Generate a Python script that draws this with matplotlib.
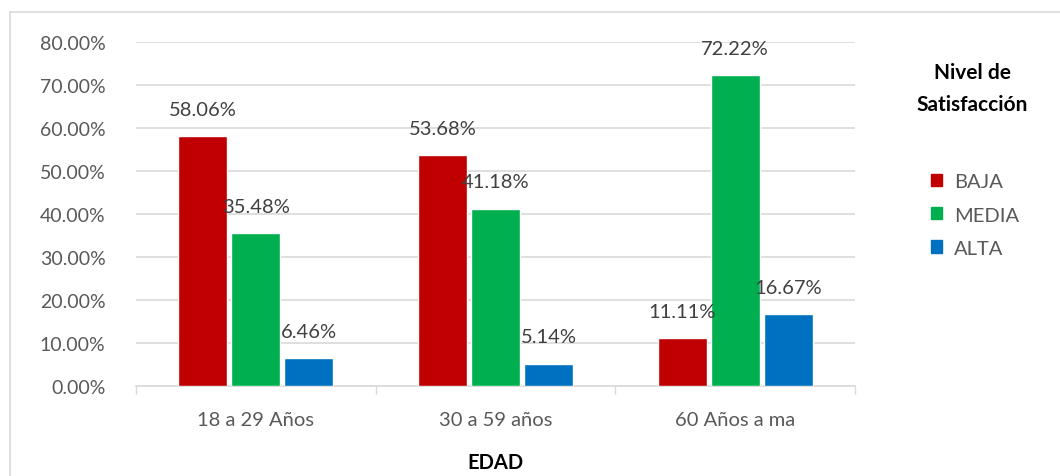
import matplotlib
matplotlib.use('Agg')
import matplotlib.pyplot as plt
import numpy as np
from matplotlib.lines import Line2D
from matplotlib.patches import Patch

# data
categories = ['18 a 29 Años', '30 a 59 años', '60 Años a ma']
series_names = ['BAJA', 'MEDIA', 'ALTA']
baja = [58.06, 53.68, 11.11]
media = [35.48, 41.18, 72.22]
alta = [6.46, 5.14, 16.67]
colors = ['#C00000', '#00B050', '#0070C0']

plt.rcParams['font.family'] = ['Lato', 'DejaVu Sans']

fig = plt.figure(figsize=(10.6, 4.77), dpi=100)
ax = fig.add_axes([136 / 1060, 90 / 477, 719 / 1060, 344 / 477])

x = np.arange(len(categories))
width = 0.205
step = 0.221
for i, (vals, name) in enumerate(zip([baja, media, alta], series_names)):
    pos = x + (i - 1) * step
    bars = ax.bar(pos, vals, width, color=colors[i], edgecolor='white', linewidth=1, zorder=3, label=name)
    for b, v in zip(bars, vals):
        ax.annotate(f'{v:.2f}%', (b.get_x() + b.get_width() / 2, v), xytext=(0, 19.5),
                    textcoords='offset points', ha='center', va='center',
                    fontsize=14.5, color='#404040', zorder=4)

ax.set_ylim(0, 80)
ax.set_xlim(-0.5, 2.5)
ax.set_yticks(np.arange(0, 81, 10))
ax.set_yticklabels([f'{t:.2f}%' for t in np.arange(0, 81, 10)])
ax.set_xticks(x)
ax.set_xticklabels(categories)
ax.set_xticks([-0.5, 0.5, 1.5, 2.5], minor=True)
ax.tick_params(axis='x', which='major', length=0, pad=18, labelsize=14.5, labelcolor='#595959')
ax.tick_params(axis='x', which='minor', length=6, color='#d9d9d9', width=1)
ax.tick_params(axis='y', length=0, pad=22, labelsize=14, labelcolor='#595959')
ax.grid(axis='y', color='#d9d9d9', linewidth=1.2, zorder=0)
for s in ['top', 'right', 'left']:
    ax.spines[s].set_visible(False)
ax.spines['bottom'].set_color('#d9d9d9')
ax.spines['bottom'].set_linewidth(1.2)

ax.set_xlabel('EDAD', fontsize=14.5, fontweight='bold', color='black', labelpad=17)

# legend
fig.text(972 / 1060, 1 - 89 / 477, 'Nivel de\nSatisfacción', ha='center', va='center',
         fontsize=15, fontweight='bold', color='black', linespacing=1.75)
handles = [Patch(color=c) for c in colors]
fig.legend(handles, series_names, loc='center left', bbox_to_anchor=(913 / 1060, 1 - 216 / 477),
           frameon=False, fontsize=14.5, labelcolor='#595959', handlelength=0.55, handleheight=0.55,
           handletextpad=0.6, labelspacing=0.8)

# chart frame
fig.add_artist(Line2D([10 / 1060, 1], [1 - 13 / 477, 1 - 13 / 477], color='#d9d9d9', linewidth=1.2))
fig.add_artist(Line2D([10 / 1060, 10 / 1060], [0, 1 - 13 / 477], color='#d9d9d9', linewidth=1.2))

fig.savefig('out.png', dpi=100)
